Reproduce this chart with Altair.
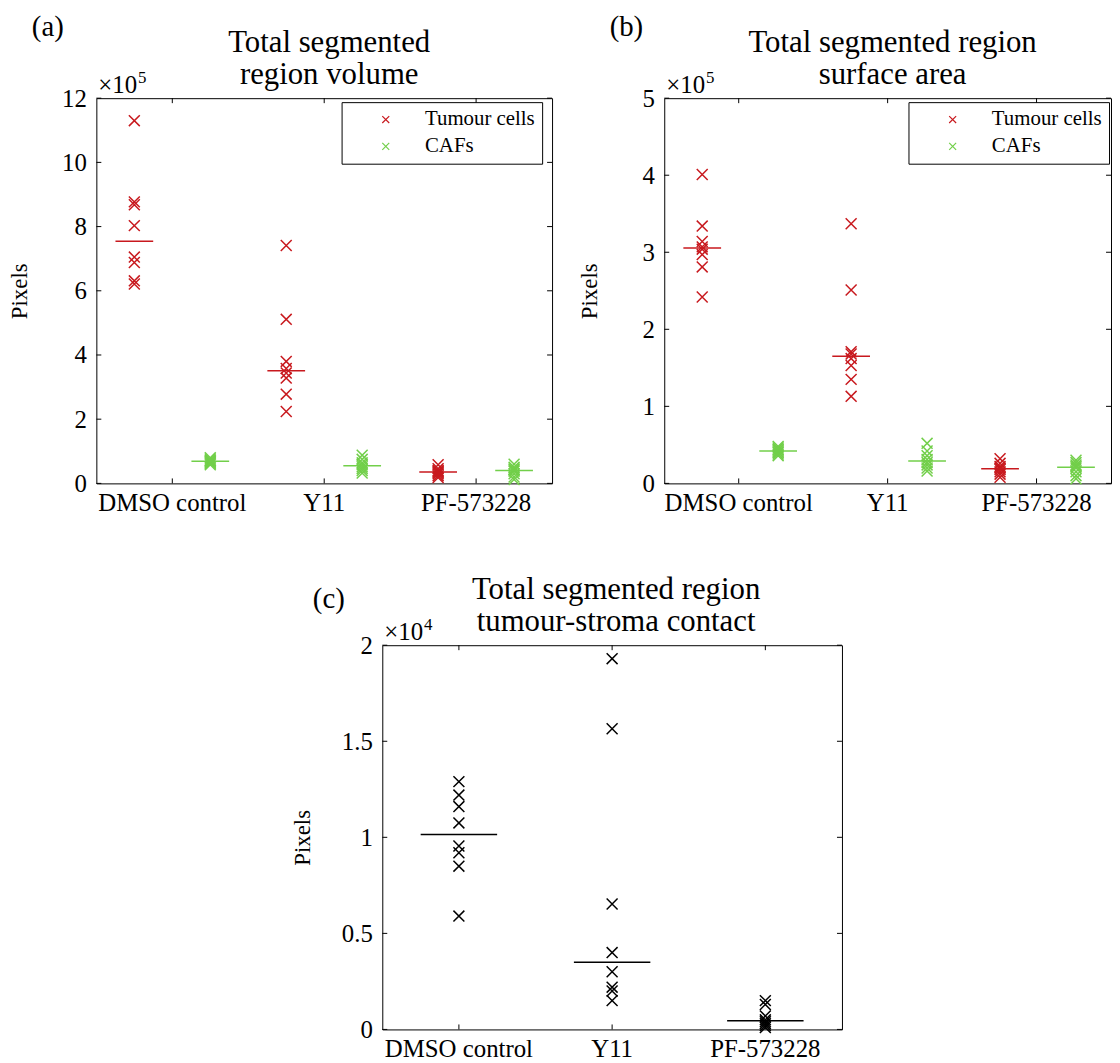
import altair as alt
import pandas as pd

FONT = "Liberation Serif"
RED = "#c8191e"
GREEN = "#72cf4a"
CROSS = "M-1,-1L1,1M-1,1L1,-1"

categories = ["DMSO control", "Y11", "PF-573228"]
cell_types = ["Tumour cells", "CAFs"]

# (a) Total segmented region volume (pixels, x10^5)
vol_tumour = {
    "DMSO control": [11.30, 8.77, 8.68, 8.03, 7.05, 6.88, 6.31, 6.21],
    "Y11": [7.41, 5.11, 3.80, 3.58, 3.44, 3.28, 2.78, 2.24],
    "PF-573228": [0.58, 0.46, 0.40, 0.37, 0.34, 0.30, 0.24, 0.18],
}
vol_caf = {
    "DMSO control": [0.80, 0.76, 0.72, 0.70, 0.68, 0.65, 0.62, 0.58],
    "Y11": [0.88, 0.75, 0.64, 0.58, 0.52, 0.46, 0.40, 0.32],
    "PF-573228": [0.60, 0.50, 0.45, 0.42, 0.38, 0.30, 0.20, 0.12],
}
# (b) Total segmented region surface area (pixels, x10^5)
surf_tumour = {
    "DMSO control": [4.01, 3.34, 3.14, 3.07, 3.04, 2.97, 2.81, 2.42],
    "Y11": [3.37, 2.51, 1.71, 1.68, 1.62, 1.53, 1.35, 1.13],
    "PF-573228": [0.32, 0.26, 0.22, 0.20, 0.18, 0.15, 0.12, 0.08],
}
surf_caf = {
    "DMSO control": [0.48, 0.46, 0.44, 0.43, 0.41, 0.40, 0.38, 0.36],
    "Y11": [0.52, 0.42, 0.36, 0.31, 0.27, 0.24, 0.20, 0.16],
    "PF-573228": [0.30, 0.27, 0.24, 0.22, 0.20, 0.15, 0.10, 0.06],
}
# (c) Total segmented region tumour-stroma contact (pixels, x10^4)
contact = {
    "DMSO control": [1.29, 1.22, 1.16, 1.075, 0.955, 0.92, 0.85, 0.59],
    "Y11": [1.93, 1.565, 0.653, 0.40, 0.30, 0.22, 0.20, 0.15],
    "PF-573228": [0.15, 0.13, 0.07, 0.05, 0.04, 0.03, 0.02, 0.01],
}

yticks_a = [0, 2, 4, 6, 8, 10, 12]
yticks_b = [0, 1, 2, 3, 4, 5]
yticks_c = [0, 0.5, 1, 1.5, 2]


def to_df(groups):
    rows = []
    for cell, series in groups:
        for t in categories:
            for v in series[t]:
                rows.append({"treatment": t, "cell": cell, "value": v})
    return pd.DataFrame(rows)


def one():
    return pd.DataFrame({"k": [0]})


def text_layer(text, x, y, size, align="left"):
    return alt.Chart(one()).mark_text(
        font=FONT, fontSize=size, align=align, baseline="alphabetic",
        color="black", lineHeight=33,
    ).encode(text=alt.value(text), x=alt.value(x), y=alt.value(y))


def panel(df, W, H, ymax, yticks, title_lines, title_dx, letter, letter_dx,
          letter_dy, base_txt, exp_txt, title_pad, legend_x=None, offsets=True):
    xscale = alt.Scale(domain=categories, type="band", paddingInner=0, paddingOuter=0)
    xaxis = alt.Axis(title=None, labelAngle=0, ticks=False, domain=False,
                     grid=False, labelFont=FONT, labelFontSize=25,
                     labelColor="black", labelPadding=7)
    yscale = alt.Scale(domain=[0, ymax], nice=False, zero=True)
    yaxis = alt.Axis(title="Pixels", values=yticks, format="~g", ticks=False,
                     domain=False, grid=False, labelFont=FONT, labelFontSize=25,
                     labelColor="black", labelPadding=10,
                     titleFont=FONT, titleFontSize=23,
                     titleFontWeight="normal", titleColor="black",
                     titlePadding=title_pad)
    X = alt.X("treatment:N", sort=categories, scale=xscale, axis=xaxis)
    Y = alt.Y("value:Q", scale=yscale, axis=yaxis)
    enc = dict(x=X, y=Y)
    if offsets:
        enc["xOffset"] = alt.XOffset("cell:N", sort=cell_types,
                                     scale=alt.Scale(domain=cell_types, type="point", padding=0.5))
        enc["color"] = alt.Color(
            "cell:N", sort=cell_types,
            scale=alt.Scale(domain=cell_types, range=[RED, GREEN]),
            legend=alt.Legend(title=None, orient="none", legendX=legend_x, legendY=4,
                              strokeColor="black", fillColor="white", padding=7,
                              symbolOffset=27, labelOffset=29, symbolSize=49,
                              symbolStrokeWidth=1.2, symbolType=CROSS,
                              labelFont=FONT, labelFontSize=21, labelColor="black",
                              rowPadding=5, cornerRadius=0))
        tick_size = 38
    else:
        enc["color"] = alt.value("black")
        tick_size = 77

    base = alt.Chart(df)
    pts = base.mark_point(shape=CROSS, size=121, strokeWidth=1.5, filled=False,
                          opacity=1).encode(**enc)
    enc_m = dict(enc)
    enc_m["y"] = alt.Y("median(value):Q", scale=yscale, axis=yaxis)
    med = base.mark_tick(size=tick_size, thickness=1.5, opacity=1).encode(**enc_m)

    xt = alt.Chart(pd.DataFrame({"treatment": categories}))
    top_t = xt.mark_rule(color="black", strokeWidth=1).encode(
        x=X, y=alt.value(0), y2=alt.value(5))
    bot_t = xt.mark_rule(color="black", strokeWidth=1).encode(
        x=X, y=alt.value(H), y2=alt.value(H - 5))
    yt = alt.Chart(pd.DataFrame({"value": yticks}))
    left_t = yt.mark_rule(color="black", strokeWidth=1).encode(
        y=Y, x=alt.value(0), x2=alt.value(5))
    right_t = yt.mark_rule(color="black", strokeWidth=1).encode(
        y=Y, x=alt.value(W), x2=alt.value(W - 5))

    ttl = text_layer(title_lines, W / 2 + title_dx, -47, 31, align="center")
    lab = text_layer(letter, letter_dx, letter_dy, 29)
    expo_base = text_layer(base_txt, 2, -5, 25)
    expo_pow = text_layer(exp_txt, 42, -15, 17)

    return alt.layer(pts, med, top_t, bot_t, left_t, right_t, ttl, lab,
                     expo_base, expo_pow).properties(width=W, height=H)


df_a = to_df([("Tumour cells", vol_tumour), ("CAFs", vol_caf)])
df_b = to_df([("Tumour cells", surf_tumour), ("CAFs", surf_caf)])
df_c = to_df([("Contact", contact)])

a = panel(df_a, 459, 388, 12, yticks_a, ["Total segmented", "region volume"], 5,
          "(a)", -65, -63, "×10", "5", 30, legend_x=247)
b = panel(df_b, 450, 388, 5, yticks_b, ["Total segmented region", "surface area"], 5,
          "(b)", -55, -63, "×10", "5", 41, legend_x=246)
c = panel(df_c, 463, 387, 2, yticks_c, ["Total segmented region", "tumour-stroma contact"], 4,
          "(c)", -70, -37, "×10", "4", 27, offsets=False)

spacer = alt.Chart(one()).mark_point(opacity=0).encode(
    x=alt.value(0), y=alt.value(0)).properties(
    width=195, height=10, view=alt.ViewBackground(stroke="transparent"))

top = alt.hconcat(a, b, spacing=25).resolve_scale(
    color="independent").resolve_legend(color="independent")
bottom = alt.hconcat(spacer, c, spacing=0)

chart = alt.vconcat(top, bottom, spacing=57).properties(
    padding={"left": 0, "top": 0, "right": 0, "bottom": 0}
).configure(font=FONT).configure_view(
    stroke="black", strokeWidth=1
).configure_axis(labelFont=FONT, titleFont=FONT)

chart.save("out.html", embed_options={"renderer": "svg", "actions": False})
